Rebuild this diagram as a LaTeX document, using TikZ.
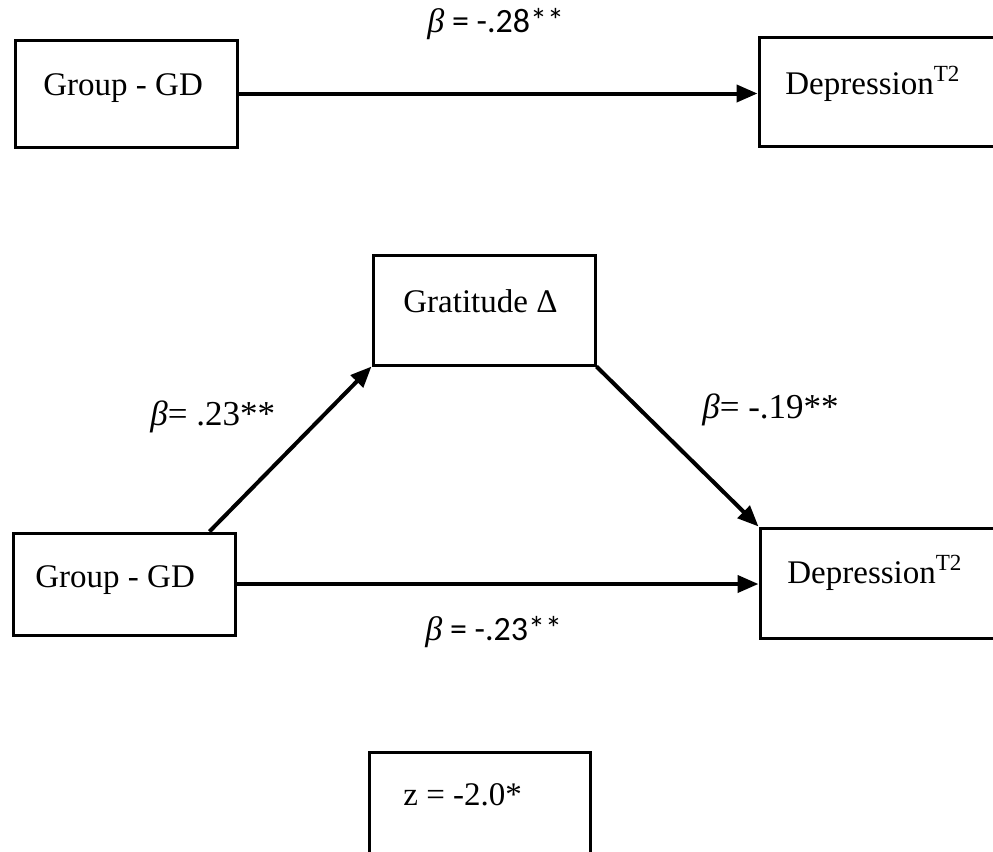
\documentclass[tikz,border=0pt]{standalone}
\usepackage{fontspec}
\setmainfont{Liberation Serif}
\newfontfamily\calfont{Carlito}
\usetikzlibrary{arrows.meta}
\begin{document}
\begin{tikzpicture}[x=0.5pt,y=-0.5pt,
  box/.style={draw,line width=1.5pt,inner sep=0pt},
  txt/.style={anchor=base west,inner sep=0pt,font=\fontsize{16.5}{20}\selectfont},
  serlbl/.style={anchor=base west,inner sep=0pt,font=\fontsize{17.5}{20}\selectfont},
  sanslbl/.style={anchor=base west,inner sep=0pt,font=\calfont\fontsize{17}{20}\selectfont},
  arr/.style={line width=2pt,-{Triangle[length=10.5pt,width=8.5pt]}}]
\useasboundingbox (0,0) rectangle (993,852);
\clip (0,0) rectangle (993,852);
% boxes
\node[box,minimum width=111pt,minimum height=53.5pt] (A1) at (126,93.5) {};
\node[box,minimum width=122pt,minimum height=54.5pt] (B1) at (881,91.5) {};
\node[box,minimum width=111pt,minimum height=55pt] (C) at (484,310) {};
\node[box,minimum width=111pt,minimum height=51pt] (A2) at (124,584) {};
\node[box,minimum width=121.5pt,minimum height=55pt] (B2) at (881.5,583) {};
\node[box,minimum width=110.5pt,minimum height=64pt] (Z) at (479.5,816) {};
% box texts
\node[txt] (tA1) at (43,95) {Group - GD};
\node[txt] (tB1) at (785,94) {Depression\textsuperscript{T2}};
\node[txt] (tC) at (403,312) {Gratitude Δ};
\node[txt] (tA2) at (35,587) {Group - GD};
\node[txt] (tB2) at (787,583) {Depression\textsuperscript{T2}};
\node[txt] (tZ) at (403,805) {z = -2.0*};
% connectors
\draw[arr] (A1.east) -- (A1.east -| B1.west);
\draw[arr] (A2.east) -- (A2.east -| B2.west);
\draw[arr] ([xshift=-13.5pt]A2.north east) -- (C.south west);
\draw[arr] (C.south east) -- (B2.north west);
% labels
\node[sanslbl] (l1) at (427,32) {{\normalfont\itshape β} = -.28**};
\node[serlbl] (l2) at (150,425) {\textit{β}= .23**};
\node[serlbl] (l3) at (702,418) {\textit{β}= -.19**};
\node[sanslbl] (l4) at (425,640) {{\normalfont\itshape β} = -.23**};
\end{tikzpicture}
\end{document}
